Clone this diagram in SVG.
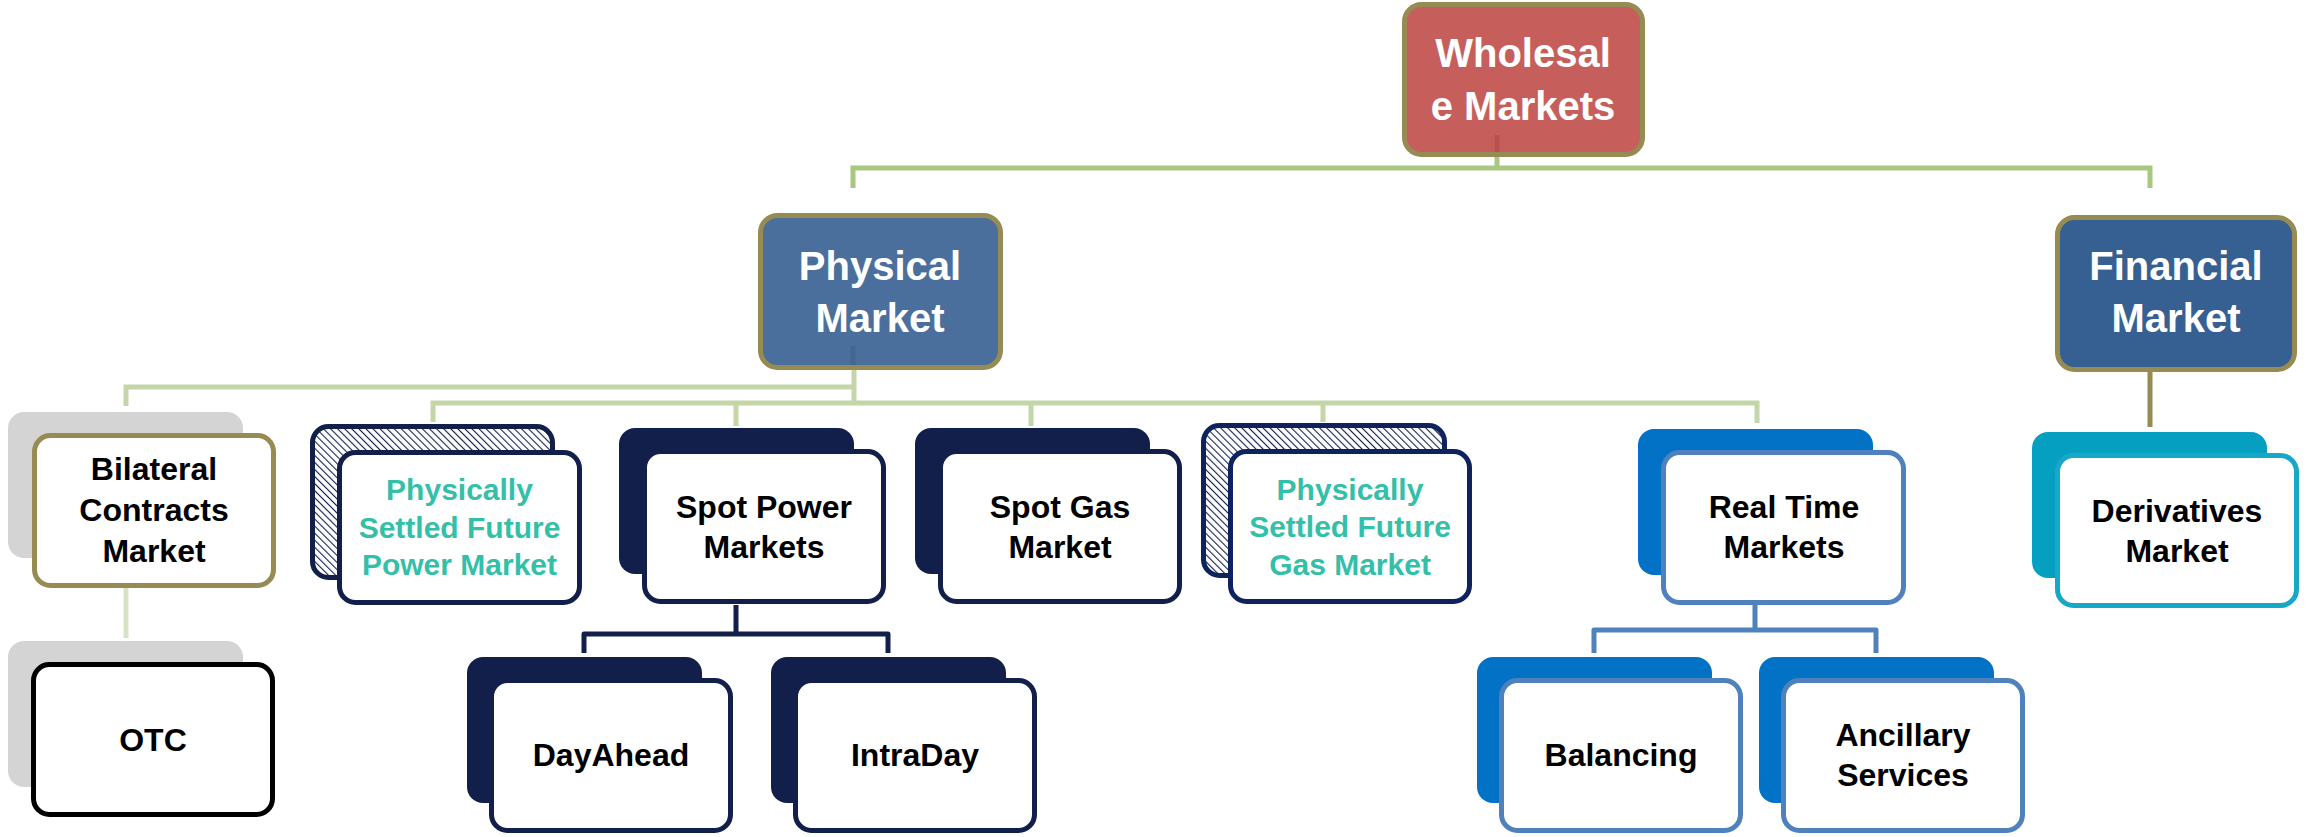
<svg xmlns="http://www.w3.org/2000/svg" width="2306" height="837" viewBox="0 0 2306 837">
<defs>
<pattern id="hatch" patternUnits="userSpaceOnUse" width="5" height="5" patternTransform="rotate(-45)">
<rect width="5" height="5" fill="#ffffff"/>
<line x1="0" y1="0" x2="0" y2="5" stroke="#131F4B" stroke-width="2.2"/>
</pattern>
<style>
text{font-family:"Liberation Sans",Arial,sans-serif;font-weight:bold;text-anchor:middle}
.tt{font-size:40px;fill:#ffffff}
.lb{font-size:32px;fill:#000000}
.ps{font-size:30px;fill:#33BFA8}
.topbox{stroke:#958B53;stroke-width:5}
.front{fill:#ffffff;stroke-width:5}
.navyback{fill:#131F4B}
.blueback{fill:#0272C6}
.grayback{fill:#D5D4D5}
.conn{fill:none;stroke-width:5}
</style>
</defs>
<rect width="2306" height="837" fill="#ffffff"/>

<g id="connectors">
<path class="conn" stroke="#A8C87F" d="M1497,157 V168 M853,188 V168 H2150 V188"/>
<path class="conn" stroke="#C4D6A8" d="M854,370 V403 M126,406 V387 H854 M433,422 V403 H1757 V423 M736,403 V426 M1031,403 V426 M1323,403 V422"/>
<path class="conn" stroke="#D6E4C3" d="M126,588 V638"/>
<path class="conn" stroke="#958B53" stroke-width="2.5" d="M2150,372 V427"/>
<path class="conn" stroke="#131F4B" stroke-width="4" stroke-linejoin="round" d="M736,605 V634 M584,653 V634 H888 V653"/>
<path class="conn" stroke="#4F81BD" stroke-width="4" stroke-linejoin="round" d="M1755,605 V630 M1594,653 V630 H1876 V653"/>
</g>

<g id="wholesale">
<rect class="topbox" x="1404.5" y="4.5" width="238" height="150" rx="17" fill="#C65F5C"/>
<line x1="1497" y1="135" x2="1497" y2="152" stroke="#B9524F" stroke-width="5"/>
<text class="tt" x="1523" y="67">Wholesal</text>
<text class="tt" x="1523" y="120">e Markets</text>
</g>

<g id="physical">
<rect class="topbox" x="760.5" y="215.5" width="240" height="152" rx="17" fill="#4A6F9D"/>
<line x1="853" y1="346" x2="853" y2="365" stroke="#44678F" stroke-width="5"/>
<text class="tt" x="880" y="280">Physical</text>
<text class="tt" x="880" y="332">Market</text>
</g>

<g id="financial">
<rect class="topbox" x="2057.5" y="217.5" width="237" height="152" rx="17" fill="#376092"/>
<text class="tt" x="2176" y="280">Financial</text>
<text class="tt" x="2176" y="332">Market</text>
</g>

<g id="bilateral">
<rect class="grayback" x="8" y="412" width="235" height="146" rx="16"/>
<rect class="front" stroke="#958B53" x="34.5" y="435.5" width="239" height="150" rx="16"/>
<text class="lb" x="154" y="480">Bilateral</text>
<text class="lb" x="154" y="521">Contracts</text>
<text class="lb" x="154" y="562">Market</text>
</g>

<g id="otc">
<rect class="grayback" x="8" y="641" width="235" height="146" rx="16"/>
<rect class="front" stroke="#000000" x="33.5" y="664.5" width="239" height="150" rx="16"/>
<text class="lb" x="153" y="751">OTC</text>
</g>

<g id="psf-power">
<rect x="312.5" y="426.5" width="240" height="151" rx="16" fill="url(#hatch)" stroke="#131F4B" stroke-width="5"/>
<rect class="front" stroke="#131F4B" x="339.5" y="452.5" width="240" height="150" rx="16"/>
<text class="ps" x="459.5" y="500">Physically</text>
<text class="ps" x="459.5" y="538">Settled Future</text>
<text class="ps" x="459.5" y="575">Power Market</text>
</g>

<g id="spot-power">
<rect class="navyback" x="619" y="428" width="235" height="146" rx="16"/>
<rect class="front" stroke="#131F4B" x="644.5" y="451.5" width="239" height="150" rx="16"/>
<text class="lb" x="764" y="518">Spot Power</text>
<text class="lb" x="764" y="558">Markets</text>
</g>

<g id="spot-gas">
<rect class="navyback" x="915" y="428" width="235" height="146" rx="16"/>
<rect class="front" stroke="#131F4B" x="940.5" y="451.5" width="239" height="150" rx="16"/>
<text class="lb" x="1060" y="518">Spot Gas</text>
<text class="lb" x="1060" y="558">Market</text>
</g>

<g id="psf-gas">
<rect x="1203.5" y="425.5" width="241" height="150" rx="16" fill="url(#hatch)" stroke="#0E2260" stroke-width="5"/>
<rect class="front" stroke="#0E2260" x="1230.5" y="451.5" width="239" height="150" rx="16"/>
<text class="ps" x="1350" y="500">Physically</text>
<text class="ps" x="1350" y="537">Settled Future</text>
<text class="ps" x="1350" y="575">Gas Market</text>
</g>

<g id="real-time">
<rect class="blueback" x="1638" y="429" width="235" height="146" rx="16"/>
<rect class="front" stroke="#4F81BD" x="1663.5" y="452.5" width="240" height="150" rx="16"/>
<text class="lb" x="1784" y="518">Real Time</text>
<text class="lb" x="1784" y="558">Markets</text>
</g>

<g id="derivatives">
<rect x="2032" y="432" width="235" height="146" rx="16" fill="#05A0C1"/>
<rect class="front" stroke="#17A7C8" x="2057.5" y="455.5" width="239" height="150" rx="16"/>
<text class="lb" x="2177" y="522">Derivatives</text>
<text class="lb" x="2177" y="562">Market</text>
</g>

<g id="dayahead">
<rect class="navyback" x="467" y="657" width="235" height="146" rx="16"/>
<rect class="front" stroke="#131F4B" x="491.5" y="680.5" width="239" height="150" rx="16"/>
<text class="lb" x="611" y="766">DayAhead</text>
</g>

<g id="intraday">
<rect class="navyback" x="771" y="657" width="235" height="146" rx="16"/>
<rect class="front" stroke="#131F4B" x="795.5" y="680.5" width="239" height="150" rx="16"/>
<text class="lb" x="915" y="766">IntraDay</text>
</g>

<g id="balancing">
<rect class="blueback" x="1477" y="657" width="235" height="146" rx="16"/>
<rect class="front" stroke="#4F81BD" x="1501.5" y="680.5" width="239" height="150" rx="16"/>
<text class="lb" x="1621" y="766">Balancing</text>
</g>

<g id="ancillary">
<rect class="blueback" x="1759" y="657" width="235" height="146" rx="16"/>
<rect class="front" stroke="#4F81BD" x="1783.5" y="680.5" width="239" height="150" rx="16"/>
<text class="lb" x="1903" y="746">Ancillary</text>
<text class="lb" x="1903" y="786">Services</text>
</g>
</svg>
